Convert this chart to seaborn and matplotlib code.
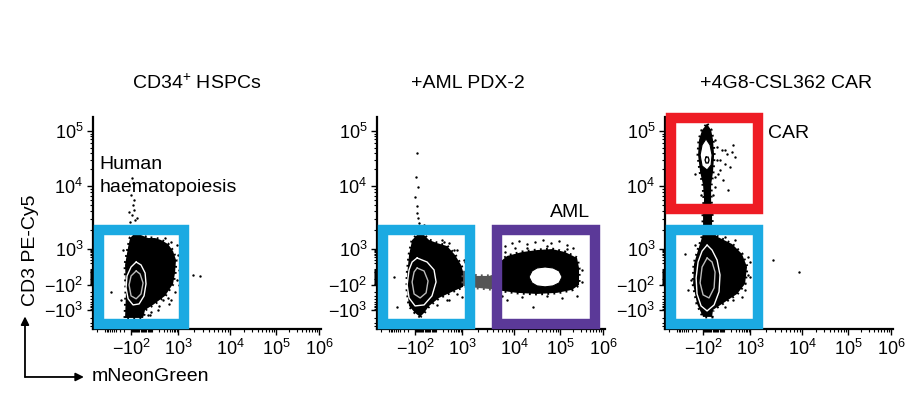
import numpy as np
import matplotlib
matplotlib.use('Agg')
import matplotlib.pyplot as plt
import seaborn as sns

# biexponential-style axes: tick values and where they sit along each axis (fraction of length)
x_ticks = [-1e2, 1e3, 1e4, 1e5, 1e6]
x_tick_pos = [0.167, 0.373, 0.601, 0.803, 0.991]
x_labels = ['$-10^{2}$', '$10^{3}$', '$10^{4}$', '$10^{5}$', '$10^{6}$']
y_ticks = [-1e3, -1e2, 1e3, 1e4, 1e5]
y_tick_pos = [0.090, 0.208, 0.377, 0.675, 0.934]
y_labels = ['$-10^{3}$', '$-10^{2}$', '$10^{3}$', '$10^{4}$', '$10^{5}$']

titles = ['CD34$^{+}$ HSPCs', '+AML PDX-2', '+4G8-CSL362 CAR']

# ---- panel 1: CD34+ HSPCs ----
p1_cloud_x = [-186, -169, -186, -138, -112, -58, -6, 54, 133, 237, 433, 660, 846, 778, 660, 336, 107, 28, 11]
p1_cloud_y = [-1975, -170, 166, 1077, 1497, 1797, 1670, 1497, 1497, 1391, 1200, 805, 299, 42, -85, -297, -653, -1000, -1975]
p1_outer_x = [-48, -6, 28, 36, 19, -22, -78, -138, -169, -154, -100, -48]
p1_outer_y = [237, 166, 42, -85, -297, -600, -653, -385, -139, 9, 127, 237]
p1_inner_x = [-48, -14, 11, -6, -48, -100, -125, -100, -48]
p1_inner_y = [67, 31, -72, -250, -385, -297, -100, 9, 67]
p1_dots_x = [-89, -78, -100, -68, -78, -125, -68, -40, -89, -58, -112, -48, -138, -78, -100,
             2650, 1945, -626, 282, 559, 921, 1046, 179, 74, 1143, 472, -58,
             1000, 921, 559, 336, 1046, 778, 433, 196, 85, -222, -266, 54]
p1_dots_y = [14000, 11340, 7200, 6000, 5000, 3870, 4160, 3110, 3470, 2890, 2690, 2160, 2320, 2320, 2005,
             9, 20, -205, -423, -423, -35, 81, -1000, -1530, 237, -600, -72,
             521, 1158, 1292, 1497, -100, -205, -357, -712, -1185, 899, -423, -1530]

# ---- panel 2: +AML PDX-2 ----
p2_cloud_x = [-48, -100, -186, -222, -222, -186, -138, -78, -14, 28, 107, 282, 559, 921, 1094, 1046, 433, 133, 28, -14]
p2_cloud_y = [-1810, -1290, -712, -170, 20, 521, 1391, 1670, 1670, 1391, 1246, 1117, 521, 166, 20, -125, -205, -357, -712, -1290]
p2_bridge_x = [1046, 1945, 3310, 5625, 5625, 3310, 1945, 1046]
p2_bridge_y = [54, 9, 9, 54, -170, -155, -139, -112]
p2_aml_x = [5385, 7333, 14920, 31600, 67000, 130800, 248600, 276800, 276800, 190000, 86000, 31600, 11620, 5880, 5150]
p2_aml_y = [237, 468, 722, 899, 1000, 722, 376, 110, -100, -170, -226, -250, -226, -187, -35]
p2_hole_x = [21180, 24600, 31600, 47300, 70500, 95100, 111200, 95100, 70500, 47300, 31600, 24600, 21180]
p2_hole_y = [-2, 67, 110, 127, 110, 67, -2, -72, -112, -125, -112, -72, -2]
p2_outer_x = [-78, 11, 74, 96, 54, -14, -100, -186, -222, -186, -138, -78]
p2_outer_y = [376, 237, 81, -59, -297, -653, -712, -357, -100, 81, 237, 376]
p2_inner_x = [-78, -14, 19, 3, -48, -112, -138, -112, -78]
p2_inner_y = [110, 67, -47, -226, -357, -250, -59, 54, 110]
p2_dots_x = [-78, -89, -68, -100, -78, -78, -68, -58, -89, -14, -48,
             218, 513, 1094, 1000, 336, -528, -677,
             6715, 9150, 12840, 19160, 28540, 42700, 63700, 95100, 145500, 200500, 10510, 52100,
             25860, 13500, 248600, 7333, 111200, -58,
             1249, 1143, 660, 336, 179, 660, 282, 107,
             6715, 19160, 145500, 325000, 325000, 52100, 14920, 5880, 4714]
p2_dots_y = [39800, 14600, 9630, 6690, 4820, 3730, 3110, 2590, 2160, 2405, 2005,
             1292, 899, 299, -326, -423, -776, -2,
             1117, 1246, 1340, 1200, 1292, 1391, 1246, 1340, 1158, 1037, 1037, 1117,
             -776, 2320, -297, -423, -357, -47,
             81, 237, 899, 1246, 1391, -250, -423, -653,
             722, 1037, 1000, 81, -59, -297, -326, -297, 166]

# ---- panel 3: +4G8-CSL362 CAR ----
p3_car_x = [-58, -22, -6, 3, -6, -22, -22, -14, -14, -100, -100, -89, -100, -138, -169, -154, -112, -58]
p3_car_y = [134000, 104200, 68600, 36500, 17950, 10430, 6000, 3470, 1865, 1865, 3470, 6000, 10430, 17950, 36500, 68600, 104200, 134000]
p3_egg_x = [-68, -31, -14, -22, -58, -112, -138, -112, -68]
p3_egg_y = [71600, 55600, 36500, 24000, 19500, 23060, 36500, 55600, 71600]
p3_o_x = [-68, -48, -40, -48, -68, -78, -68]
p3_o_y = [33500, 33500, 29600, 26140, 26140, 29600, 33500]
p3_cloud_x = [-14, 36, 218, 513, 778, 660, 336, 74, -6, -14, -100, -186, -266, -245, -169, -112, -100]
p3_cloud_y = [1865, 1550, 1200, 581, 127, -85, -250, -600, -1000, -1810, -1810, -600, -85, 188, 899, 1550, 1865]
p3_outer_x = [-58, -14, 28, 54, 45, 3, -58, -125, -186, -203, -169, -112, -58]
p3_outer_y = [1158, 899, 299, 20, -205, -653, -1090, -712, -250, -13, 237, 805, 1158]
p3_inner_x = [-58, -14, 11, 3, -40, -100, -138, -112, -58]
p3_inner_y = [376, 237, 54, -139, -357, -272, -72, 127, 376]
p3_dots_x = [28, 74, 133, 218, 282, 54, 107, 179, 36, 85, 11, -222, 237, 148,
             -528, -410, 846, 1000, 513, 2770, 8750, -58,
             11, 28, 54, 107, 11, -6, -125,
             1000, 846, 660, 237, 107, -222, -318, 282, 107]
p3_dots_y = [51100, 45000, 38200, 41500, 33500, 29600, 25100, 22140, 16500, 12850, 9630, 16500, 55600, 8640,
             581, -170, 420, -2, -326, 299, 54, -72,
             68600, 29600, 19500, 45000, 14600, 7200, 7200,
             237, 20, -170, -423, -776, 1158, -35, 1391, 1550]

# gates: x0, x1, y0, y1
gate_blue_1 = [-1690, 1280, -3280, 2005]
gate_blue_2 = [-1690, 1430, -3280, 2005]
gate_aml = [4790, 651000, -3280, 2005]
gate_blue_3 = [-1690, 1400, -3280, 2005]
gate_car = [-1690, 1400, 4310, 171800]

BLUE = '#1BAAE2'
PURPLE = '#5B3998'
RED = '#EE1C24'

sns.set_theme(style='ticks')
plt.rcParams['font.family'] = ['Liberation Sans', 'DejaVu Sans']
plt.rcParams['mathtext.default'] = 'regular'
plt.rcParams['text.color'] = 'black'
plt.rcParams['xtick.color'] = 'black'
plt.rcParams['ytick.color'] = 'black'
plt.rcParams['xtick.labelcolor'] = 'black'
plt.rcParams['ytick.labelcolor'] = 'black'


def lin_extrap(x, xp, fp):
    x = np.asarray(x, float)
    y = np.interp(x, xp, fp)
    y = np.where(x < xp[0], fp[0] + (x - xp[0]) * (fp[1] - fp[0]) / (xp[1] - xp[0]), y)
    y = np.where(x > xp[-1], fp[-1] + (x - xp[-1]) * (fp[-1] - fp[-2]) / (xp[-1] - xp[-2]), y)
    return y


def make_scale(vals, pos, c=100.0):
    u = np.arcsinh(np.asarray(vals, float) / c)
    p = np.asarray(pos, float)
    fwd = lambda v: lin_extrap(np.arcsinh(np.asarray(v, float) / c), u, p)
    inv = lambda t: c * np.sinh(lin_extrap(t, p, u))
    return fwd, inv


xf, xi = make_scale(x_ticks, x_tick_pos)
yf, yi = make_scale(y_ticks, y_tick_pos)

minor = ([-m * 100 for m in range(2, 10)] + [-1000, -2000, -3000, -4000]
         + [m * 10 for m in range(-9, 10)]
         + [m * 10 ** e for e in range(2, 6) for m in range(2, 10)])


def gate(ax, g, color):
    x0, x1, y0, y1 = g
    ax.fill([x0, x1, x1, x0], [y0, y0, y1, y1], fill=False, edgecolor=color,
            linewidth=7.5, joinstyle='miter', clip_on=False, zorder=5)


def cloud(ax, xs, ys, color='black'):
    # solid core plus a speckled rim to mimic the dot density fading out
    ax.fill(xs, ys, facecolor=color, edgecolor=color, linewidth=2.2,
            linestyle=(0, (0.6, 1.4)), zorder=2)


def contour(ax, xs, ys, color='white'):
    ax.plot(xs, ys, color=color, linewidth=1.0, zorder=3)


def dots(ax, xs, ys):
    sns.scatterplot(x=xs, y=ys, ax=ax, s=3, color='black', linewidth=0, zorder=4, legend=False)


fig = plt.figure(figsize=(9.12, 3.98), dpi=100)
lefts = [93, 377, 665]
axes = [fig.add_axes([l / 912, 69 / 398, 228 / 912, 212 / 398]) for l in lefts]

for ax in axes:
    ax.set_xscale('function', functions=(xf, xi))
    ax.set_yscale('function', functions=(yf, yi))
    ax.set_xlim(xi(0.0), xi(1.0))
    ax.set_ylim(yi(0.0), yi(1.0))
    ax.set_xticks(x_ticks, labels=x_labels)
    ax.set_yticks(y_ticks, labels=y_labels)
    ax.set_xticks([m for m in minor if xi(0.0) < m < xi(1.0)], minor=True)
    ax.set_yticks([m for m in minor if yi(0.0) < m < yi(1.0)], minor=True)
    ax.tick_params(which='major', length=4, width=1, labelsize=13, pad=3,
                   color='black', labelcolor='black')
    ax.tick_params(which='minor', length=2.2, width=0.8, color='black')
    ax.set_facecolor('white')
    for s in ['top', 'right']:
        ax.spines[s].set_visible(False)
    for s in ['left', 'bottom']:
        ax.spines[s].set_linewidth(1.6)
        ax.spines[s].set_color('black')

# panel 1
ax = axes[0]
cloud(ax, p1_cloud_x, p1_cloud_y)
contour(ax, p1_outer_x, p1_outer_y)
contour(ax, p1_inner_x, p1_inner_y, color='#bbbbbb')
dots(ax, p1_dots_x, p1_dots_y)
gate(ax, gate_blue_1, BLUE)
ax.text(0.03, 0.815, 'Human\nhaematopoiesis', transform=ax.transAxes, fontsize=14,
        va='top', ha='left', linespacing=1.45)

# panel 2
ax = axes[1]
cloud(ax, p2_cloud_x, p2_cloud_y)
cloud(ax, p2_bridge_x, p2_bridge_y, color='#555555')
cloud(ax, p2_aml_x, p2_aml_y)
ax.fill(p2_hole_x, p2_hole_y, facecolor='white', edgecolor='black', linewidth=0.8, zorder=3)
contour(ax, p2_outer_x, p2_outer_y)
contour(ax, p2_inner_x, p2_inner_y, color='#bbbbbb')
dots(ax, p2_dots_x, p2_dots_y)
gate(ax, gate_blue_2, BLUE)
gate(ax, gate_aml, PURPLE)
ax.text(0.845, 0.55, 'AML', transform=ax.transAxes, fontsize=14, ha='center', va='center')

# panel 3
ax = axes[2]
cloud(ax, p3_car_x, p3_car_y)
cloud(ax, p3_cloud_x, p3_cloud_y)
ax.fill(p3_egg_x, p3_egg_y, facecolor='white', edgecolor='black', linewidth=0.8, zorder=3)
contour(ax, p3_o_x, p3_o_y, color='black')
contour(ax, p3_outer_x, p3_outer_y)
contour(ax, p3_inner_x, p3_inner_y, color='#bbbbbb')
dots(ax, p3_dots_x, p3_dots_y)
gate(ax, gate_blue_3, BLUE)
gate(ax, gate_car, RED)
ax.text(0.54, 0.92, 'CAR', transform=ax.transAxes, fontsize=14, ha='center', va='center')

title_x = [0.456, 0.40, 0.53]
for ax, t, tx in zip(axes, titles, title_x):
    ax.text(tx, 1.16, t, transform=ax.transAxes, fontsize=14, ha='center', va='center')

# axis labels with arrows
fig.text(0.033, 0.372, 'CD3 PE-Cy5', rotation=90, fontsize=14, ha='center', va='center')
fig.text(0.101, 0.053, 'mNeonGreen', fontsize=14, ha='left', va='center')
arrow = dict(arrowstyle='-|>', color='black', lw=1.3, mutation_scale=12, shrinkA=0, shrinkB=0)
fig.add_artist(matplotlib.patches.FancyArrowPatch((0.0274, 0.0528), (0.0274, 0.205),
               transform=fig.transFigure, **arrow))
fig.add_artist(matplotlib.patches.FancyArrowPatch((0.0274, 0.0528), (0.092, 0.0528),
               transform=fig.transFigure, **arrow))

fig.savefig('out.png', dpi=100, facecolor='white')
